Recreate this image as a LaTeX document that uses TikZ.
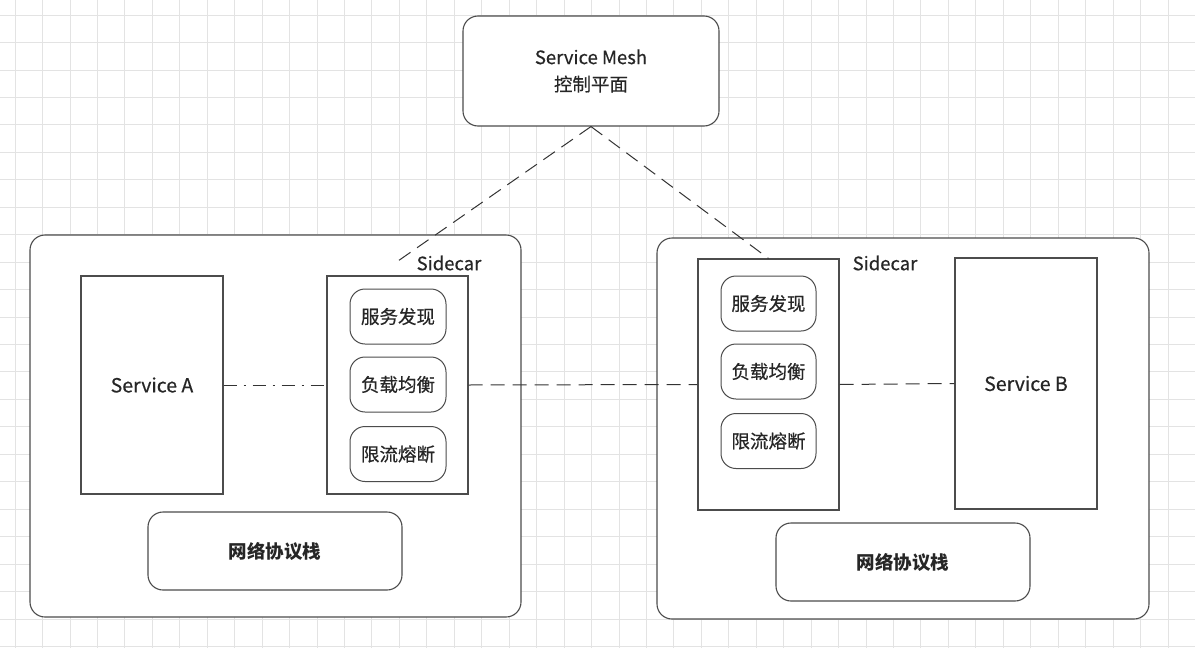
\documentclass[tikz,border=0pt]{standalone}
\usepackage{fontspec}
\newfontfamily\cjk{Noto Sans CJK SC}[UprightFeatures={FakeBold=0.4}]
\usepackage{tikz}
\usetikzlibrary{positioning, calc}
\tikzset{
    gridline/.style={draw=black!11, line width=0.8pt},
    hostbox/.style={rectangle, rounded corners=15pt, draw=black!70, line width=1.1pt, fill=white},
    svcbox/.style={rectangle, draw=black!70, line width=1.1pt, fill=white, minimum width=142pt, text=black!85, font=\cjk\fontsize{19.5}{27}\selectfont},
    pill/.style={rectangle, rounded corners=15pt, draw=black!70, line width=1pt, fill=white, minimum width=96pt, minimum height=55pt, text=black!85, font=\cjk\fontsize{18.5}{27}\selectfont},
    netbox/.style={rectangle, rounded corners=15pt, draw=black!70, line width=1.1pt, fill=white, minimum width=254pt, minimum height=78pt, text=black!85, font=\cjk\bfseries\fontsize{18.5}{27}\selectfont},
    tag/.style={text=black!85, font=\cjk\fontsize{18.5}{27}\selectfont},
    ctrl/.style={draw=black!80, line width=1pt, dash pattern=on 14pt off 8pt},
    dataflow/.style={draw=black!80, line width=1pt, dash pattern=on 14pt off 8pt},
    localflow/.style={draw=black!80, line width=1pt, dash pattern=on 13pt off 7pt on 2pt off 7pt}
}

\begin{document}
\begin{tikzpicture}[x=1pt, y=-1pt]
        \useasboundingbox (0,0) rectangle (1195,648);
        \fill[white] (0,0) rectangle (1195,648);

        % Grid
        \foreach \i in {0,...,43}
            \draw[gridline] ({15+27.45*\i},0) -- ({15+27.45*\i},648);
        \foreach \j in {0,...,23}
            \draw[gridline] (0,{15+27.45*\j}) -- (1195,{15+27.45*\j});

        % Control plane
        \node (mesh) at (591,71) [hostbox, minimum width=256pt, minimum height=110pt, align=center, text=black!85, font=\cjk\fontsize{18.5}{27}\selectfont] {Service Mesh\\控制平面};

        % Hosts
        \node (hostA) at (275.5,426) [hostbox, minimum width=491pt, minimum height=382pt] {};
        \node (hostB) at (903,428.5) [hostbox, minimum width=492pt, minimum height=381pt] {};

        % Host A
        \node (svcA) at (152,385) [svcbox, minimum height=218pt] {Service A};
        \node (sideA) at (397.5,385) [svcbox, minimum width=141pt, minimum height=218pt] {};
        \node (tagA) at (449,263) [tag] {Sidecar};
        \node (discA) at (398,316.5) [pill] {服务发现};
        \node (lbA) at (398,384.5) [pill] {负载均衡};
        \node (cbA) at (398,454) [pill] {限流熔断};
        \node (netA) at (275,551) [netbox] {网络协议栈};

        % Host B
        \node (sideB) at (768.5,384.5) [svcbox, minimum width=141pt, minimum height=251pt] {};
        \node (tagB) at (885,263) [tag] {Sidecar};
        \node (discB) at (768.5,303.5) [pill, minimum width=95pt] {服务发现};
        \node (lbB) at (768.5,371.5) [pill, minimum width=95pt] {负载均衡};
        \node (cbB) at (768.5,441) [pill, minimum width=95pt] {限流熔断};
        \node (svcB) at (1026,383.5) [svcbox, minimum height=251pt] {Service B};
        \node (netB) at (903,562) [netbox] {网络协议栈};

        % Control links
        \coordinate (tapA) at (398,261);
        \draw[ctrl] (mesh.south) -- (tapA);
        \draw[ctrl] (mesh.south) -- (sideB.north);

        % Data path
        \draw[localflow] (svcA.east) -- (sideA.west);
        \draw[dataflow] (sideA.east) -- (sideB.west);
        \draw[dataflow] (sideB.east) -- (svcB.west);
    \end{tikzpicture}
\end{document}
